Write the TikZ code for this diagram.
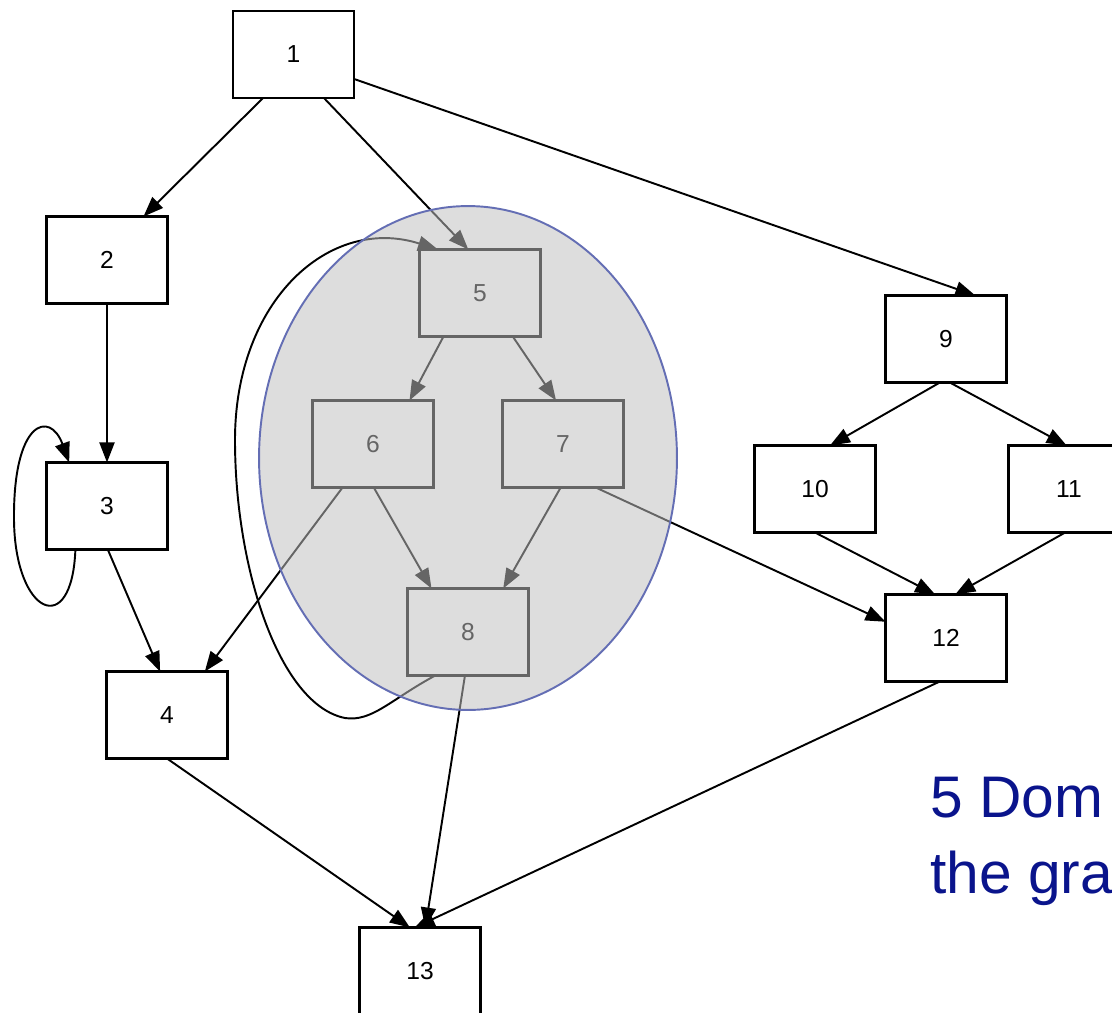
\documentclass[tikz,border=0pt]{standalone}
\usepackage{fontspec}
\setmainfont{Liberation Sans}
\usetikzlibrary{arrows.meta, positioning, shapes.geometric}
\definecolor{domblue}{RGB}{10,20,140}
\definecolor{ringblue}{RGB}{100,110,180}
\definecolor{shade}{RGB}{191,191,191}
\tikzset{
  block/.style={rectangle, draw=black, fill=white,
    minimum width=2.42cm, minimum height=1.74cm, inner sep=0pt, outer sep=0pt,
    line width=1.5pt, font=\fontsize{14}{16}\selectfont},
  arrow/.style={-{Triangle[length=0.4cm, width=0.3cm]}, line width=1.1pt, color=black},
  domset/.style={ellipse, draw=ringblue, fill=shade, fill opacity=0.53,
    line width=1.1pt, minimum width=8.36cm, minimum height=10.08cm}
}

\begin{document}
\begin{tikzpicture}[x=0.02cm, y=-0.02cm]
  \useasboundingbox (0,0) rectangle (1112,1012);

  % Flow graph blocks
  \node[block] (n1) at (293.5,54.5) {1};
  \node[block] (n2) at (107,260) {2};
  \node[block, below=3.18cm of n2] (n3) {3};
  \node[block] (n4) at (167,715) {4};
  \node[block] (n5) at (480,293) {5};
  \node[block] (n6) at (373,444) {6};
  \node[block, right=1.38cm of n6] (n7) {7};
  \node[block] (n8) at (468,632) {8};
  \node[block] (n9) at (946,339) {9};
  \node[block] (n10) at (815,489) {10};
  \node[block, right=2.66cm of n10] (n11) {11};
  \node[block, below=4.24cm of n9] (n12) {12};
  \node[block] (n13) at (420,971) {13};

  % Edges
  \draw[arrow] (n1.235) -- (n2.50);
  \draw[arrow] (n1.305) -- (n5.105);
  \draw[arrow] (n1.338) -- (n9.56);
  \draw[arrow] (n2) -- (n3);
  \draw[arrow] (n3.234) .. controls (72,640) and (15,615) .. (14,520)
    .. controls (13,420) and (50,410) .. (n3.131);
  \draw[arrow] (n3.271) -- (n4.99);
  \draw[arrow] (n5.230) -- (n6.50);
  \draw[arrow] (n5.307) -- (n7.99);
  \draw[arrow] (n6.235) -- (n4.49);
  \draw[arrow] (n6.271) -- (n8.130);
  \draw[arrow] (n7.267) -- (n8.51);
  \draw[arrow] (n7.307) -- (n12.165);
  \draw[arrow] (n8.233) .. controls (390,700) and (372,722) .. (345,718)
    .. controls (280,705) and (235,570) .. (235,440)
    .. controls (235,300) and (330,215) .. (n5.134);
  \draw[arrow] (n8.266) -- (n13.83);
  \draw[arrow] (n9.262) -- (n10.71);
  \draw[arrow] (n9.275) -- (n11.93);
  \draw[arrow] (n10.270) -- (n12.104);
  \draw[arrow] (n11.265) -- (n12.78);
  \draw[arrow] (n12.262) -- (n13.97);
  \draw[arrow] (n4.270) -- (n13.103);

  % Dominated region laid over the graph
  \node[domset] (dom) at (468,458) {};

  \node[anchor=base west, align=left, color=domblue,
        font=\fontsize{33.4}{43.2}\selectfont] (note) at (924,893) {5 Dom\\the gra};
\end{tikzpicture}
\end{document}
